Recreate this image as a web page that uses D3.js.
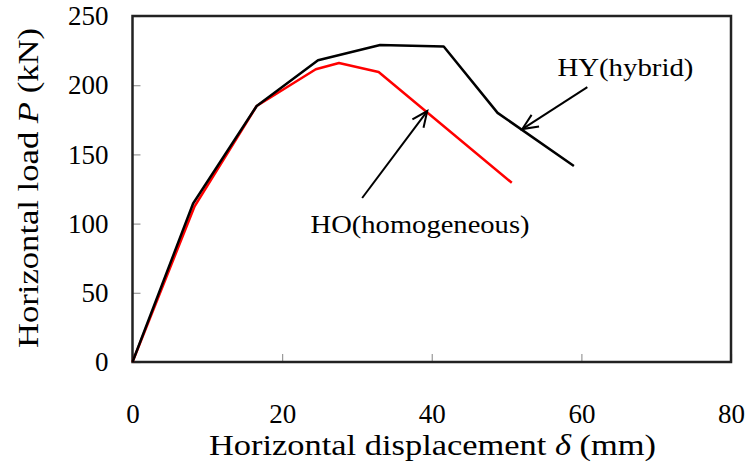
<!DOCTYPE html>
<html>
<head>
<meta charset="utf-8">
<script src="https://cdn.jsdelivr.net/npm/d3@7"></script>
<style>
  body { margin: 0; background: #fff; }
  svg { display: block; }
  svg text { font-family: "Liberation Serif", "Times New Roman", serif; }
</style>
</head>
<body>
<svg id="chart" width="750" height="474"></svg>
<script>
// displacement (mm) / load (kN)
const hyDisp = [0, 8.1, 16.6, 24.8, 33.1, 41.6, 48.8, 59.0];
const hyLoad = [0, 114.5, 185, 218, 229, 228, 180, 141.6];
const hoDisp = [0, 8.3, 16.6, 24.5, 27.6, 32.9, 50.7];
const hoLoad = [0, 112.5, 185, 211.5, 216, 209.5, 129.5];

const xTicks = [0, 20, 40, 60, 80];
const yTicks = [0, 50, 100, 150, 200, 250];

// annotation arrows [tailX, tailY, tipX, tipY] and label anchors
const hyArrow = [60.8, 198.6, 52.1, 168.3];
const hoArrow = [30.7, 118.5, 39.4, 181.3];
const hyLabel = { text: "HY(hybrid)", x: 56.8, y: 206.6 };
const hoLabel = { text: "HO(homogeneous)", x: 23.8, y: 93.3 };

const width = 750, height = 474;
const margin = { top: 16, right: 19, bottom: 112, left: 132.5 };
const w = width - margin.left - margin.right;
const h = height - margin.top - margin.bottom;
const serif = '"Liberation Serif", "Times New Roman", serif';

const svg = d3.select("#chart");
const g = svg.append("g")
  .attr("transform", "translate(" + margin.left + "," + margin.top + ")");

const x = d3.scaleLinear().domain([0, 80]).range([0, w]);
const y = d3.scaleLinear().domain([0, 250]).range([h, 0]);

// axes, ticks pointing inwards
const xAxis = g.append("g")
  .attr("transform", "translate(0," + h + ")")
  .call(d3.axisBottom(x).tickValues(xTicks).tickSizeInner(-8).tickSizeOuter(0).tickPadding(42));
const yAxis = g.append("g")
  .call(d3.axisLeft(y).tickValues(yTicks).tickSizeInner(-8).tickSizeOuter(0).tickPadding(24));

[xAxis, yAxis].forEach(a => {
  a.attr("font-family", null);
  a.select(".domain").remove();
  a.selectAll(".tick line").attr("stroke", "#999").attr("stroke-width", 1.2);
  a.selectAll(".tick text")
    .style("font-family", serif)
    .attr("font-size", 27)
    .attr("fill", "#000");
});

// frame
g.append("rect")
  .attr("x", 0).attr("y", 0)
  .attr("width", w).attr("height", h)
  .attr("fill", "none")
  .attr("stroke", "#222")
  .attr("stroke-width", 2.5);

const line = d3.line()
  .x(d => x(d[0]))
  .y(d => y(d[1]));

const hoData = hoDisp.map((d, i) => [d, hoLoad[i]]);
const hyData = hyDisp.map((d, i) => [d, hyLoad[i]]);

g.append("path")
  .attr("d", line(hoData))
  .attr("fill", "none")
  .attr("stroke", "#ff0000")
  .attr("stroke-width", 2.5)
  .attr("stroke-linejoin", "round");

g.append("path")
  .attr("d", line(hyData))
  .attr("fill", "none")
  .attr("stroke", "#000")
  .attr("stroke-width", 2.5)
  .attr("stroke-linejoin", "round");

// arrows with open heads
function drawArrow(a) {
  const x1 = x(a[0]), y1 = y(a[1]), x2 = x(a[2]), y2 = y(a[3]);
  const ang = Math.atan2(y2 - y1, x2 - x1);
  const len = 17, spread = 0.42;
  g.append("line")
    .attr("x1", x1).attr("y1", y1).attr("x2", x2).attr("y2", y2)
    .attr("stroke", "#000").attr("stroke-width", 2);
  const head = [
    [x2 - len * Math.cos(ang - spread), y2 - len * Math.sin(ang - spread)],
    [x2, y2],
    [x2 - len * Math.cos(ang + spread), y2 - len * Math.sin(ang + spread)]
  ];
  g.append("path")
    .attr("d", d3.line()(head))
    .attr("fill", "none")
    .attr("stroke", "#000")
    .attr("stroke-width", 2);
}
drawArrow(hyArrow);
drawArrow(hoArrow);

g.append("text")
  .attr("x", x(hyLabel.x)).attr("y", y(hyLabel.y))
  .style("font-family", serif)
  .attr("font-size", 25)
  .attr("textLength", 136).attr("lengthAdjust", "spacingAndGlyphs")
  .text(hyLabel.text);

g.append("text")
  .attr("x", x(hoLabel.x)).attr("y", y(hoLabel.y))
  .style("font-family", serif)
  .attr("font-size", 25)
  .attr("textLength", 219).attr("lengthAdjust", "spacingAndGlyphs")
  .text(hoLabel.text);

// axis titles
const xTitle = svg.append("text")
  .attr("x", 209).attr("y", 455)
  .style("font-family", serif)
  .attr("font-size", 30)
  .attr("textLength", 447).attr("lengthAdjust", "spacingAndGlyphs");
xTitle.append("tspan").text("Horizontal displacement ");
xTitle.append("tspan").attr("font-style", "italic").text("δ");
xTitle.append("tspan").text(" (mm)");

const yTitle = svg.append("text")
  .attr("transform", "translate(38,348) rotate(-90)")
  .style("font-family", serif)
  .attr("font-size", 30)
  .attr("textLength", 320).attr("lengthAdjust", "spacingAndGlyphs");
yTitle.append("tspan").text("Horizontal load ");
yTitle.append("tspan").attr("font-style", "italic").text("P");
yTitle.append("tspan").text(" (kN)");
</script>
</body>
</html>
